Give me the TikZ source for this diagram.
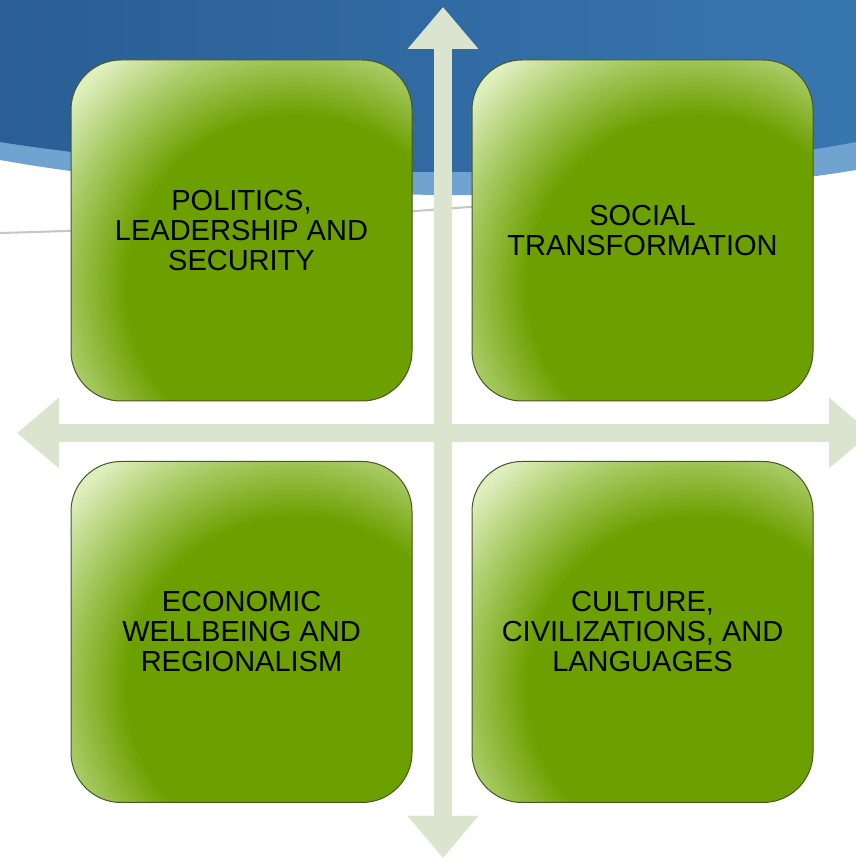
\documentclass[tikz,border=0pt]{standalone}
\usepackage{fontspec}
\setmainfont{Liberation Sans}
\usetikzlibrary{arrows.meta}

\definecolor{boxgreen}{RGB}{108,160,0}
\definecolor{boxlight}{RGB}{222,239,190}
\definecolor{edgegreen}{RGB}{72,86,38}
\definecolor{crossgreen}{RGB}{218,228,207}
\definecolor{bandblue}{RGB}{56,118,176}
\definecolor{banddark}{RGB}{42,94,148}
\definecolor{bandlight}{RGB}{112,163,208}

\pgfdeclareradialshading{boxglow}{\pgfpoint{0bp}{0bp}}{%
  color(0bp)=(boxgreen); color(12.5bp)=(boxgreen);
  color(21.5bp)=(boxlight); color(50bp)=(boxlight)}

\begin{document}
\begin{tikzpicture}[x=1pt, y=1pt]
  \tikzstyle{quad} = [draw=edgegreen, line width=1pt, fill=boxgreen,
    rounded corners=50pt, minimum width=341pt, minimum height=341pt,
    inner sep=0pt, align=center, font=\fontsize{29}{30}\selectfont,
    path picture={\shade[shading=boxglow]
      ([xshift=55pt, yshift=-55pt]path picture bounding box.center)
      ellipse (340pt and 340pt);}];
  \tikzstyle{cross} = [draw=crossgreen, line width=18pt,
    {Triangle[length=42pt, width=68pt]}-{Triangle[length=42pt, width=68pt]}];

  \useasboundingbox (0, 0) rectangle (856, 860);
  \clip (0, 0) rectangle (856, 860);
  \fill[white] (0, 0) rectangle (856, 860);

  \fill[bandlight] (0, 860) -- (0, 700)
    .. controls (250, 655) and (650, 655) .. (856, 690) -- (856, 860) -- cycle;
  \shade[left color=banddark, right color=bandblue] (0, 860) -- (0, 718)
    .. controls (250, 678) and (650, 678) .. (856, 718) -- (856, 860) -- cycle;
  \draw[gray!45, line width=2pt] (0, 627)
    .. controls (200, 632) and (450, 650) .. (700, 672);

  \coordinate (north end) at (443, 853);
  \coordinate (south end) at (443, 2);
  \coordinate (west end)  at (17, 427);
  \coordinate (east end)  at (871, 427);

  \draw[cross] (south end) -- (north end);
  \draw[cross] (west end) -- (east end);

  \node[quad] (politics) at (241.5, 629.5) {POLITICS,\\LEADERSHIP AND\\SECURITY};
  \node[quad] (social)   at (642.5, 629.5) {SOCIAL\\TRANSFORMATION};
  \node[quad] (economic) at (241.5, 228)   {ECONOMIC\\WELLBEING AND\\REGIONALISM};
  \node[quad] (culture)  at (642.5, 228)   {CULTURE,\\CIVILIZATIONS, AND\\LANGUAGES};
\end{tikzpicture}
\end{document}
